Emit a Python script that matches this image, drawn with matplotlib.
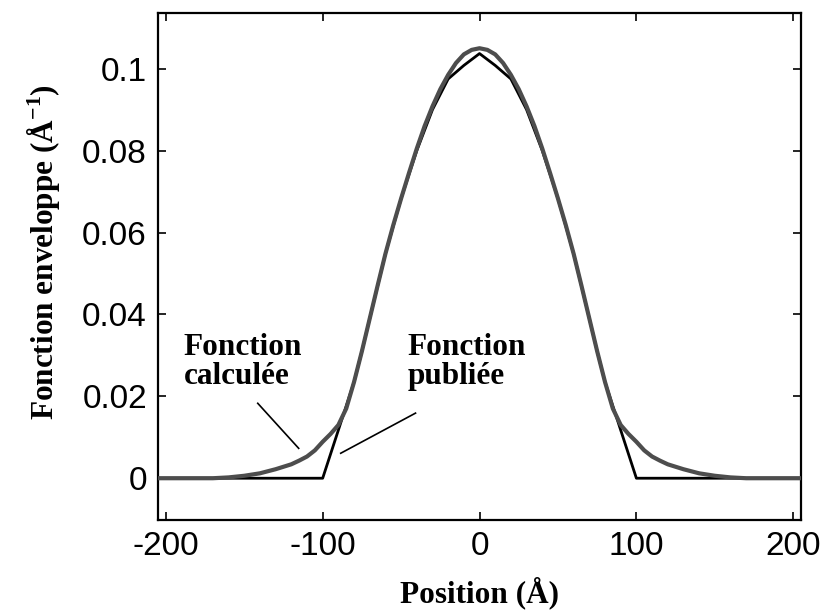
import matplotlib
matplotlib.use("Agg")
import matplotlib.pyplot as plt

# valeurs
calc_x = [-205, -200, -170, -160, -150, -140, -130, -120, -115, -110, -105, -100, -95, -90,
          -85, -80, -75, -70, -65, -60, -55, -50, -45, -40, -35, -30, -25, -20, -15, -10, -5,
          0, 5, 10, 15, 20, 25, 30, 35, 40, 45, 50, 55, 60, 65, 70, 75, 80, 85, 90, 95,
          100, 105, 110, 115, 120, 130, 140, 150, 160, 170, 200, 205]
calc_y = [0, 0, 0, 0.0002, 0.0006, 0.0012, 0.0022, 0.0034, 0.0043, 0.0053, 0.0068, 0.0089,
          0.0108, 0.0130, 0.0170, 0.0235, 0.0310, 0.0390, 0.0470, 0.0548, 0.0618, 0.0683,
          0.0745, 0.0805, 0.0860, 0.0908, 0.0950, 0.0985, 0.1014, 0.1035, 0.1046,
          0.1050, 0.1046, 0.1035, 0.1014, 0.0985, 0.0950, 0.0908, 0.0860, 0.0805, 0.0745,
          0.0683, 0.0618, 0.0548, 0.0470, 0.0390, 0.0310, 0.0235, 0.0170, 0.0130, 0.0108,
          0.0089, 0.0068, 0.0053, 0.0043, 0.0034, 0.0022, 0.0012, 0.0006, 0.0002, 0, 0, 0]

pub_x = [-205, -100, -80, -75, -70, -60, -50, -40, -30, -20, -10, 0,
         10, 20, 30, 40, 50, 60, 70, 75, 80, 100, 205]
pub_y = [0, 0, 0.0235, 0.0310, 0.0390, 0.0548, 0.0683, 0.0800, 0.0900, 0.0975, 0.1008, 0.1037,
         0.1008, 0.0975, 0.0900, 0.0800, 0.0683, 0.0548, 0.0390, 0.0310, 0.0235, 0, 0]

xticks = [-200, -100, 0, 100, 200]
xtick_labels = ['-200', '-100', '0', '100', '200']
yticks = [0, 0.02, 0.04, 0.06, 0.08, 0.1]
ytick_labels = ['0', '0.02', '0.04', '0.06', '0.08', '0.1']

plt.rcParams['mathtext.fontset'] = 'custom'
plt.rcParams['mathtext.bf'] = 'Liberation Serif:bold'
plt.rcParams['mathtext.rm'] = 'Liberation Serif:bold'

serif = dict(family='Liberation Serif', weight='bold', size=22.5)

fig = plt.figure(figsize=(8.25, 6.14), dpi=100)
ax = fig.add_axes([0.1915, 0.1531, 0.7795, 0.8257])

ax.plot(pub_x, pub_y, color='black', lw=2.0, zorder=2)
ax.plot(calc_x, calc_y, color='#4d4d4d', lw=3.0, zorder=3)

ax.set_xlim(-205, 205)
ax.set_ylim(-0.0102, 0.1136)
ax.set_xticks(xticks)
ax.set_xticklabels(xtick_labels)
ax.set_yticks(yticks)
ax.set_yticklabels(ytick_labels)
ax.tick_params(direction='in', length=6, width=1.2, top=True, right=True,
               labelsize=24, pad=8)
for lab in ax.get_xticklabels() + ax.get_yticklabels():
    lab.set_family('Liberation Sans')
for s in ax.spines.values():
    s.set_linewidth(1.6)

ax.set_xlabel('Position (Å)', fontdict=serif, labelpad=10)
ax.set_ylabel('Fonction enveloppe (Å$^{-1}$)', fontdict=serif, labelpad=14)
ax.yaxis.label.set_y(0.528)

# annotations
ax.text(-188.5, 0.0355, 'Fonction\ncalculée', va='top', ha='left', linespacing=1.0, **serif)
ax.text(-45.9, 0.0355, 'Fonction\npubliée', va='top', ha='left', linespacing=1.0, **serif)
ax.plot([-141.4, -115.3], [0.0183, 0.0073], color='black', lw=1.2)
ax.plot([-40.8, -88.5], [0.0159, 0.0061], color='black', lw=1.2)

fig.savefig('out.png', dpi=100)
